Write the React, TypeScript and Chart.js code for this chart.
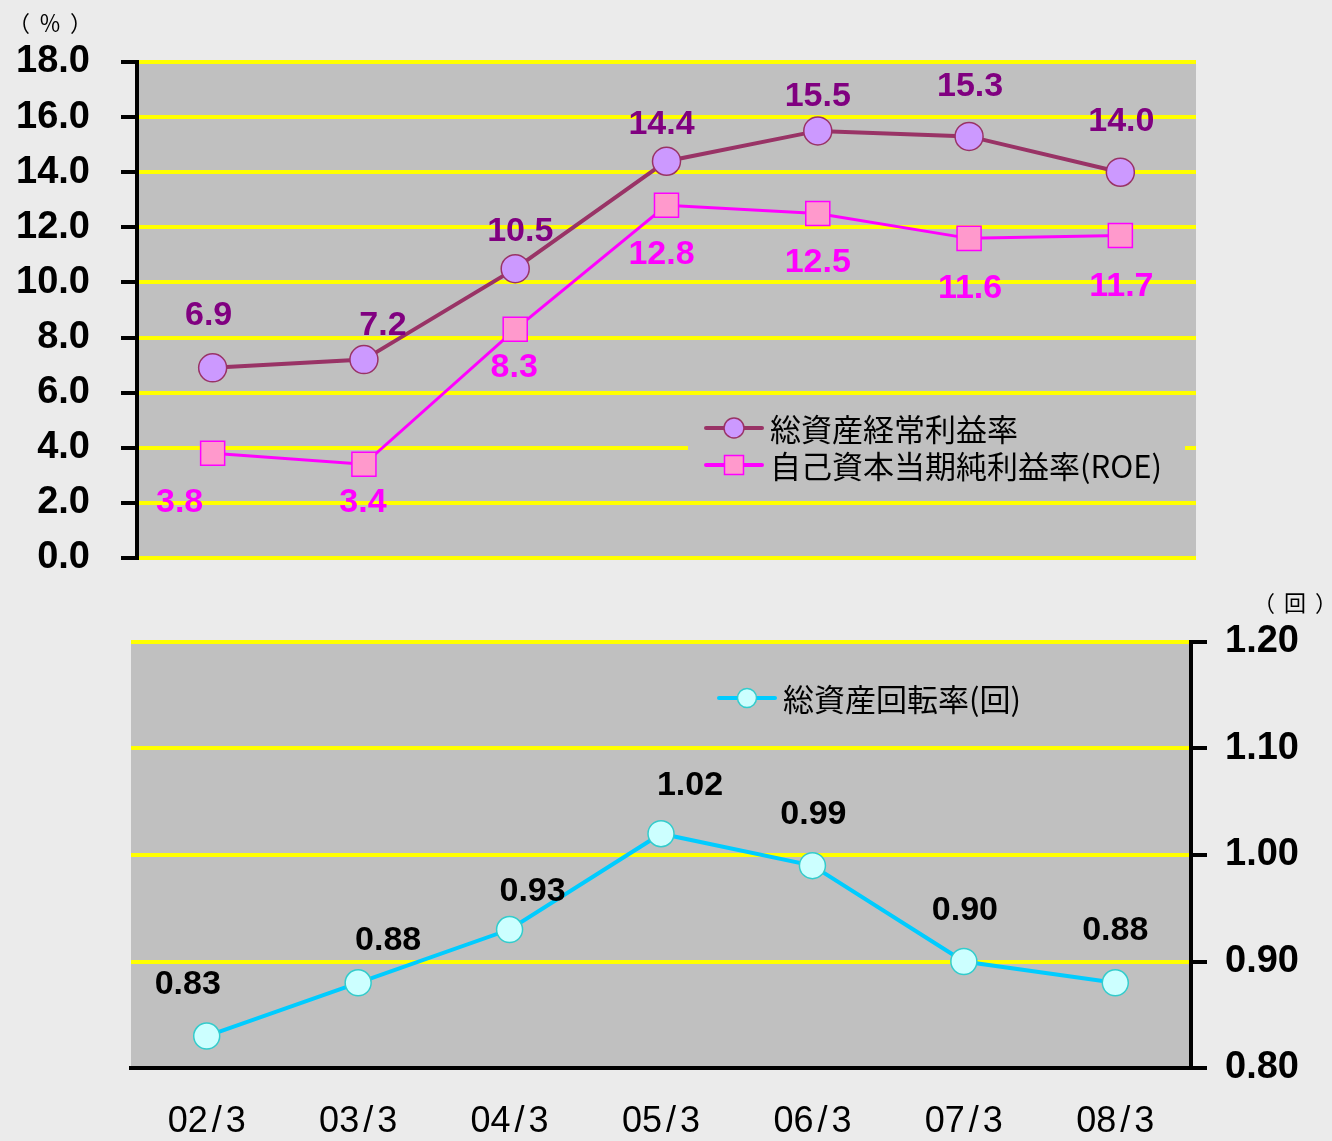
import React, { useEffect, useRef } from "react";
import { Chart, registerables } from "chart.js";

Chart.register(...registerables);

// ---------- data ----------
const categories = ["02/3", "03/3", "04/3", "05/3", "06/3", "07/3", "08/3"];
const ordinaryProfitRate = [6.9, 7.2, 10.5, 14.4, 15.5, 15.3, 14.0];
const roeRate = [3.8, 3.4, 8.3, 12.8, 12.5, 11.6, 11.7];
const assetTurnover = [0.83, 0.88, 0.93, 1.02, 0.99, 0.9, 0.88];
const seriesNames = ["総資産経常利益率", "自己資本当期純利益率(ROE)", "総資産回転率(回)"];
const topAxisUnit = "（％）";
const bottomAxisUnit = "（回）";

// label offsets (dx, dy) relative to each point
const s1LabelOffsets = [[-4, -52], [19, -34], [5, -37], [-5, -37], [0, -34], [1, -50], [1, -51]];
const s2LabelOffsets = [[-33, 49], [-1, 38], [-1, 38], [-5, 49], [0, 49], [1, 50], [1, 51]];
const s3LabelOffsets = [[-19, -51], [30, -42], [23, -38], [29, -48], [1, -51], [1, -51], [0, -52]];

const LATIN = "'Liberation Sans', Arial, sans-serif";
const CJK = "'Noto Sans CJK JP', 'Noto Sans', sans-serif";

// ---------- plugins ----------
const plotBgPlugin = {
  id: "plotBg",
  beforeDraw(chart: any, _a: any, opts: any) {
    const { ctx, chartArea: a } = chart;
    ctx.save();
    ctx.fillStyle = opts.color || "#c0c0c0";
    ctx.fillRect(a.left, a.top, a.right - a.left, a.bottom - a.top);
    ctx.restore();
  },
};

const dataLabelPlugin = {
  id: "dataLabels",
  afterDatasetsDraw(chart: any, _a: any, opts: any) {
    const ctx = chart.ctx;
    chart.data.datasets.forEach((ds: any, di: number) => {
      const cfg = opts.sets && opts.sets[di];
      if (!cfg) return;
      const meta = chart.getDatasetMeta(di);
      ctx.save();
      ctx.font = cfg.font;
      ctx.fillStyle = cfg.color;
      ctx.textAlign = "center";
      ctx.textBaseline = "middle";
      meta.data.forEach((el: any, i: number) => {
        const v = ds.data[i];
        const off = cfg.offsets[i] || [0, 0];
        ctx.fillText(Number(v).toFixed(cfg.decimals), el.x + off[0], el.y + off[1]);
      });
      ctx.restore();
    });
  },
};

function drawMarker(ctx: any, style: string, x: number, y: number, size: number, fill: string, stroke: string, lw: number) {
  ctx.save();
  ctx.fillStyle = fill;
  ctx.strokeStyle = stroke;
  ctx.lineWidth = lw;
  ctx.beginPath();
  if (style === "rect") {
    ctx.rect(x - size / 2, y - size / 2, size, size);
  } else {
    ctx.arc(x, y, size / 2, 0, Math.PI * 2);
  }
  ctx.fill();
  ctx.stroke();
  ctx.restore();
}

const legendPlugin = {
  id: "customLegend",
  afterDraw(chart: any, _a: any, opts: any) {
    const ctx = chart.ctx;
    ctx.save();
    if (opts.box) {
      ctx.fillStyle = opts.box.color;
      ctx.fillRect(opts.box.x, opts.box.y, opts.box.w, opts.box.h);
    }
    (opts.items || []).forEach((it: any) => {
      const ds = chart.data.datasets[it.dataset];
      ctx.strokeStyle = ds.borderColor;
      ctx.lineWidth = it.lineWidth;
      ctx.lineCap = "round";
      ctx.beginPath();
      ctx.moveTo(it.x, it.y);
      ctx.lineTo(it.x + it.len, it.y);
      ctx.stroke();
      drawMarker(ctx, ds.pointStyle, it.x + it.len / 2, it.y, it.markerSize, ds.pointBackgroundColor, ds.pointBorderColor, 1.5);
      ctx.fillStyle = "#000";
      ctx.font = opts.font;
      ctx.textAlign = "left";
      ctx.textBaseline = "middle";
      ctx.fillText(ds.label, it.x + it.len + 8, it.y + 1);
    });
    ctx.restore();
  },
};

// x labels: slash gets extra space on both sides
const xLabelPlugin = {
  id: "xLabels",
  afterDraw(chart: any, _a: any, opts: any) {
    if (!opts.show) return;
    const ctx = chart.ctx;
    const xs = chart.scales.x;
    ctx.save();
    ctx.font = opts.font;
    ctx.fillStyle = "#000";
    ctx.textAlign = "left";
    ctx.textBaseline = "middle";
    chart.data.labels.forEach((l: string, i: number) => {
      const chars = l.split("");
      const widths = chars.map((c) => ctx.measureText(c).width + (c === "/" ? opts.slashPad * 2 : 0));
      const total = widths.reduce((a, b) => a + b, 0);
      let x = xs.getPixelForValue(i) - total / 2;
      chars.forEach((c, k) => {
        ctx.fillText(c, x + (c === "/" ? opts.slashPad : 0), opts.y);
        x += widths[k];
      });
    });
    ctx.restore();
  },
};

const noVPadding = (w: number) => (s: any) => {
  s.width = w;
  s.paddingTop = 0;
  s.paddingBottom = 0;
};

// ---------- component ----------
export default function App() {
  const topRef = useRef<HTMLCanvasElement>(null);
  const botRef = useRef<HTMLCanvasElement>(null);

  useEffect(() => {
    const topChart = new Chart(topRef.current as HTMLCanvasElement, {
      type: "line",
      data: {
        labels: categories,
        datasets: [
          {
            label: seriesNames[0],
            data: ordinaryProfitRate,
            borderColor: "#993366",
            borderWidth: 4,
            pointStyle: "circle",
            pointRadius: 14,
            pointBackgroundColor: "#cc99ff",
            pointBorderColor: "#993366",
            pointBorderWidth: 1.5,
            tension: 0,
          },
          {
            label: seriesNames[1],
            data: roeRate,
            borderColor: "#ff00ff",
            borderWidth: 3,
            pointStyle: "rect",
            pointRadius: 17,
            pointBackgroundColor: "#ff99cc",
            pointBorderColor: "#ff00ff",
            pointBorderWidth: 1.5,
            tension: 0,
          },
        ],
      } as any,
      options: {
        responsive: false,
        animation: false,
        events: [],
        layout: { padding: { left: 0, right: 136, top: 62, bottom: 32 } },
        scales: {
          x: { type: "category", offset: true, display: false },
          y: {
            min: 0,
            max: 18,
            afterFit: noVPadding(137),
            ticks: {
              stepSize: 2,
              callback: (v: any) => Number(v).toFixed(1),
              font: { family: LATIN, size: 38, weight: "bold" },
              color: "#000",
              padding: 31,
            },
            grid: { color: "#ffff00", lineWidth: 4, tickColor: "#000", tickLength: 16, tickWidth: 4 },
            border: { color: "#000", width: 4, z: 1 },
          },
        },
        plugins: {
          legend: { display: false },
          tooltip: { enabled: false },
          plotBg: { color: "#c0c0c0" },
          dataLabels: {
            sets: [
              { font: `bold 34px ${LATIN}`, color: "#800080", decimals: 1, offsets: s1LabelOffsets },
              { font: `bold 34px ${LATIN}`, color: "#ff00ff", decimals: 1, offsets: s2LabelOffsets },
            ],
          },
          customLegend: {
            font: `31px ${CJK}`,
            box: { x: 688, y: 410, w: 497, h: 76, color: "#c0c0c0" },
            items: [
              { dataset: 0, x: 706, y: 428, len: 56, lineWidth: 4, markerSize: 20 },
              { dataset: 1, x: 706, y: 465, len: 56, lineWidth: 4, markerSize: 19 },
            ],
          },
          xLabels: { show: false },
        } as any,
      } as any,
      plugins: [plotBgPlugin, dataLabelPlugin, legendPlugin, xLabelPlugin] as any,
    });

    const botChart = new Chart(botRef.current as HTMLCanvasElement, {
      type: "line",
      data: {
        labels: categories,
        datasets: [
          {
            label: seriesNames[2],
            data: assetTurnover,
            borderColor: "#00ccff",
            borderWidth: 4,
            pointStyle: "circle",
            pointRadius: 13,
            pointBackgroundColor: "#ccffff",
            pointBorderColor: "#33cccc",
            pointBorderWidth: 1.5,
            tension: 0,
          },
        ],
      } as any,
      options: {
        responsive: false,
        animation: false,
        events: [],
        layout: { padding: { left: 131, right: 0, top: 52, bottom: 0 } },
        scales: {
          x: {
            type: "category",
            offset: true,
            afterFit: (s: any) => { s.height = 73; },
            ticks: { display: false },
            grid: { display: false },
            border: { display: true, color: "#000", width: 4, z: 1 },
          },
          y: {
            position: "right",
            min: 0.8,
            max: 1.2,
            afterFit: noVPadding(141),
            ticks: {
              stepSize: 0.1,
              callback: (v: any) => Number(v).toFixed(2),
              font: { family: LATIN, size: 38, weight: "bold" },
              color: "#000",
              padding: 18,
            },
            grid: { color: "#ffff00", lineWidth: 4, tickColor: "#000", tickLength: 16, tickWidth: 4 },
            border: { color: "#000", width: 4, z: 1 },
          },
        },
        plugins: {
          legend: { display: false },
          tooltip: { enabled: false },
          plotBg: { color: "#c0c0c0" },
          dataLabels: {
            sets: [{ font: `bold 34px ${LATIN}`, color: "#000", decimals: 2, offsets: s3LabelOffsets }],
          },
          customLegend: {
            font: `31px ${CJK}`,
            items: [{ dataset: 0, x: 719, y: 108, len: 56, lineWidth: 4, markerSize: 19 }],
          },
          xLabels: { show: true, y: 532, font: `36px ${LATIN}`, slashPad: 4 },
        } as any,
      } as any,
      plugins: [plotBgPlugin, dataLabelPlugin, legendPlugin, xLabelPlugin] as any,
    });

    return () => {
      topChart.destroy();
      botChart.destroy();
    };
  }, []);

  const unitStyle: React.CSSProperties = {
    position: "absolute",
    fontFamily: CJK,
    fontSize: 22,
    letterSpacing: 9,
    color: "#000",
    lineHeight: "30px",
    whiteSpace: "nowrap",
  };

  return (
    <div
      style={{
        position: "fixed",
        left: 0,
        top: 0,
        width: 1332,
        height: 1141,
        background: "#ebebeb",
        overflow: "hidden",
      }}
    >
      <canvas ref={topRef} width={1332} height={590} style={{ position: "absolute", left: 0, top: 0 }} />
      <canvas ref={botRef} width={1332} height={551} style={{ position: "absolute", left: 0, top: 590 }} />
      <div style={{ ...unitStyle, left: 8, top: 6 }}>{topAxisUnit}</div>
      <div style={{ ...unitStyle, left: 1253, top: 586 }}>{bottomAxisUnit}</div>
    </div>
  );
}
